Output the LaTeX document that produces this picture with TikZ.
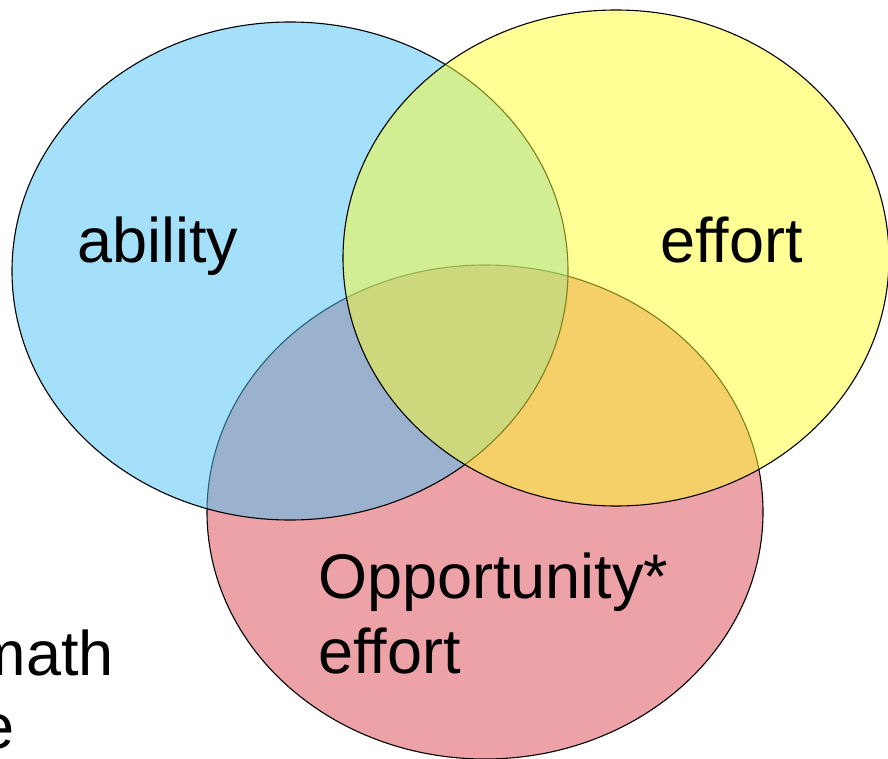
\documentclass[tikz,border=0pt]{standalone}
\usepackage{fontspec}
\setmainfont{Liberation Sans}
\definecolor{abilityblue}{RGB}{75,195,245}
\definecolor{effortyellow}{RGB}{255,255,45}
\definecolor{opporred}{RGB}{218,70,80}
\begin{document}
\begin{tikzpicture}[x=1pt, y=-1pt,
        venn/.style={draw=black, line width=1.1pt, fill opacity=0.5},
        lbl/.style={inner sep=0pt, font=\fontsize{63}{75}\selectfont}]
        \clip (0,0) rectangle (888,759);
        \fill[white] (0,0) rectangle (888,759);

        \node[lbl, anchor=base east] (math) at (114,675) {math};
        \node[lbl, anchor=base east] (e) at (15,748) {e};

        \draw[venn, fill=opporred] (485,512) ellipse [x radius=278, y radius=247];
        \draw[venn, fill=abilityblue] (290,271) ellipse [x radius=278, y radius=249];
        \draw[venn, fill=effortyellow] (616,258) ellipse [x radius=273, y radius=248];

        \node[lbl, anchor=base west] (ability) at (77,262) {ability};
        \node[lbl, anchor=base west] (effort) at (660,262) {effort};
        \node[lbl, anchor=base west] (opp) at (318,598) {Opportunity*};
        \node[lbl, anchor=base west] (opp2) at (318,673) {effort};
    \end{tikzpicture}
\end{document}
